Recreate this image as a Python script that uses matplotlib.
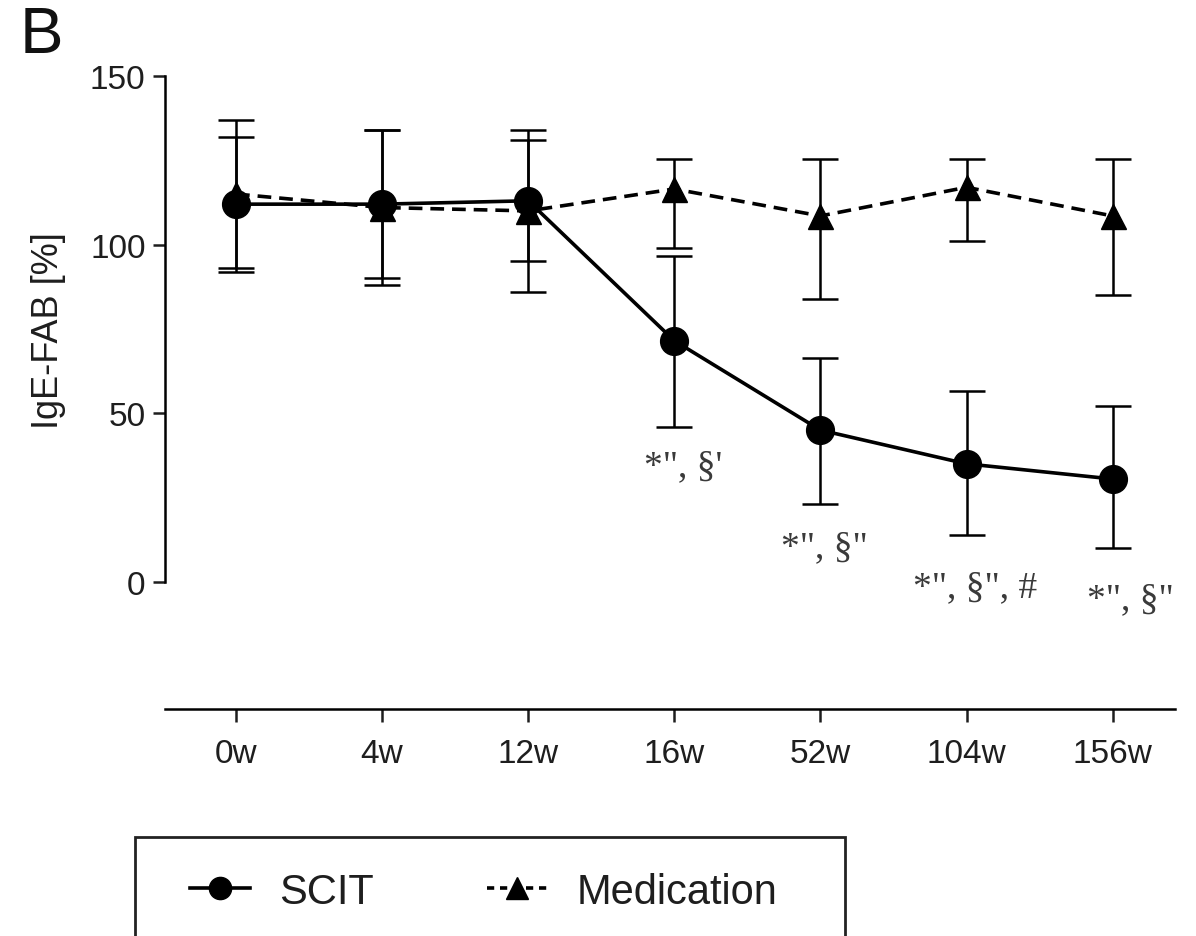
import matplotlib
matplotlib.use("Agg")
import matplotlib.pyplot as plt
from matplotlib.lines import Line2D
from matplotlib.patches import Rectangle
import numpy as np

# ---- data ----
timepoints = ["0w", "4w", "12w", "16w", "52w", "104w", "156w"]
scit_mean = [112, 112, 113, 71.5, 45, 35, 30.5]
scit_upper = [132, 134, 131, 96.5, 66.5, 56.5, 52]
scit_lower = [92, 90, 95, 46, 23, 14, 10]
med_mean = [115, 111, 110, 116.5, 108.5, 117, 108.5]
med_upper = [137, 134, 134, 125.5, 125.5, 125.5, 125.5]
med_lower = [93, 88, 86, 99, 84, 101, 85]
annotations = ['*", §\'', '*", §"', '*", §", #', '*", §"']
annot_idx = [3, 4, 5, 6]
annot_y = [34.5, 10.5, -1.5, -5.0]
annot_dx = [0.06, 0.03, 0.06, 0.12]

plt.rcParams['font.family'] = ['Liberation Sans', 'DejaVu Sans']

W, H = 1196, 937
fig = plt.figure(figsize=(W / 100, H / 100), dpi=100)
ax = fig.add_axes([165 / W, 1 - 710 / H, (1175 - 165) / W, (710 - 77) / H])

x = np.arange(len(timepoints))
scit_err = [np.array(scit_mean) - np.array(scit_lower), np.array(scit_upper) - np.array(scit_mean)]
med_err = [np.array(med_mean) - np.array(med_lower), np.array(med_upper) - np.array(med_mean)]

ax.errorbar(x, med_mean, yerr=med_err, color='black', lw=2.6, ls=(0, (3.8, 2.2)),
            marker='^', ms=18, elinewidth=1.8, capsize=13, capthick=1.8, zorder=3,
            clip_on=False)
ax.errorbar(x, scit_mean, yerr=scit_err, color='black', lw=2.6, ls='-',
            marker='o', ms=20, elinewidth=1.8, capsize=13, capthick=1.8, zorder=4,
            clip_on=False)

ax.set_xlim(-0.486, 6.427)
ax.set_ylim(-37.7, 150)
ax.set_xticks(x)
ax.set_xticklabels(timepoints)
ax.set_yticks([0, 50, 100, 150])

for s in ['top', 'right']:
    ax.spines[s].set_visible(False)
ax.spines['left'].set_bounds(0, 150)
ax.spines['left'].set_linewidth(1.8)
ax.spines['bottom'].set_linewidth(1.8)
ax.tick_params(axis='both', length=9, width=1.8, labelsize=24, colors='#1e1e1e')
ax.tick_params(axis='x', pad=12)
ax.tick_params(axis='y', pad=5)

ax.set_ylabel('IgE-FAB [%]', fontsize=26, color='#1e1e1e')
ax.yaxis.set_label_coords(-0.098, 0.60)

for txt, i, yv, dx in zip(annotations, annot_idx, annot_y, annot_dx):
    ax.text(i + dx, yv, txt, ha='center', va='center', fontsize=27,
            family=['Liberation Serif', 'DejaVu Serif'], color='#3a3a3a')

fig.text(20 / W, 1 - 36 / H, 'B', fontsize=47, ha='left', va='center', color='#111111')

# legend box (cut off at the bottom like the reference)
fig.patches.append(Rectangle((135 / W, -0.05), (845 - 135) / W, (1 - 838 / H) + 0.05,
                             transform=fig.transFigure, fill=False,
                             edgecolor='#222222', lw=2.0))

handles = [
    Line2D([], [], color='black', lw=2.6, marker='o', ms=16),
    Line2D([], [], color='black', lw=2.6, ls=(0, (2.0, 1.6)), marker='^', ms=16),
]
leg = fig.legend(handles, ['SCIT', 'Medication'], loc='center left',
                 bbox_to_anchor=(190 / W, 1 - 893 / H),
                 ncol=2, frameon=False, fontsize=30, borderpad=0.0,
                 handlelength=1.45, handletextpad=0.7, columnspacing=2.7,
                 borderaxespad=0.0)
for t in leg.get_texts():
    t.set_color('#1e1e1e')

fig.savefig('out.png', dpi=100)
